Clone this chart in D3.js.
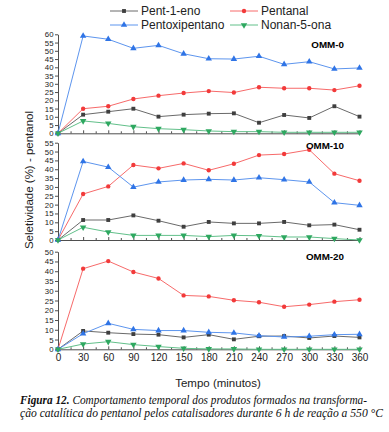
<!DOCTYPE html>
<html>
<head>
<meta charset="utf-8">
<script src="https://cdn.jsdelivr.net/npm/d3@7"></script>
<style>
  body { margin: 0; background: #fff; }
  svg { display: block; }
  .tick text { font-family: "Liberation Sans", Arial, sans-serif; fill: #222; }
  .domain, .tick line { stroke: #222; stroke-width: 0.8; }
</style>
</head>
<body>
<div id="chart"></div>
<script>
// time (minutes)
var tempo = [0, 30, 60, 90, 120, 150, 180, 210, 240, 270, 300, 330, 360];

// OMM-0
var omm0_pent1eno      = [0, 11.3, 13.1, 14.9, 10.1, 11.3, 11.9, 12.1, 6.4, 11.1, 9.3, 16.4, 10.1];
var omm0_pentanal      = [0, 14.9, 16.4, 20.8, 22.8, 24.4, 25.6, 24.7, 27.9, 27.3, 27.3, 26.2, 28.8];
var omm0_pentoxi       = [0, 59.0, 57.0, 51.5, 53.3, 48.2, 45.2, 45.0, 46.7, 41.8, 43.4, 39.0, 39.6];
var omm0_nonanona      = [0, 7.5, 6.0, 4.0, 2.8, 2.2, 1.4, 1.0, 1.0, 0.6, 0.6, 0.6, 0.6];

// OMM-10
var omm10_pent1eno     = [0, 11.3, 11.3, 13.9, 10.9, 7.5, 10.2, 9.4, 9.4, 10.2, 8.3, 8.7, 5.8];
var omm10_pentanal     = [0, 26.0, 30.3, 42.4, 40.5, 43.3, 39.4, 43.1, 48.0, 48.6, 51.0, 37.5, 33.5];
var omm10_pentoxi      = [0, 44.4, 41.2, 29.9, 32.8, 33.9, 34.3, 33.9, 35.2, 34.1, 32.8, 21.1, 19.6];
var omm10_nonanona     = [0, 7.2, 4.5, 2.6, 2.6, 2.6, 1.9, 2.6, 2.4, 1.7, 1.7, 0.8, 0];

// OMM-20
var omm20_pent1eno     = [0, 9.4, 8.5, 7.8, 7.5, 6.1, 7.5, 5.1, 6.7, 6.8, 5.8, 6.8, 6.1];
var omm20_pentanal     = [0, 41.3, 45.2, 39.6, 36.3, 27.6, 27.1, 25.1, 24.1, 21.8, 22.9, 24.4, 25.4];
var omm20_pentoxi      = [0, 8.0, 13.3, 10.2, 9.6, 9.6, 8.7, 8.4, 7.0, 6.3, 6.7, 7.5, 7.7];
var omm20_nonanona     = [0, 2.7, 3.9, 2.4, 1.4, 0.5, 0.2, 0.2, 0, 0, 0, 0, 0];

var seriesNames = ["Pent-1-eno", "Pentanal", "Pentoxipentano", "Nonan-5-ona"];
var panelNames = ["OMM-0", "OMM-10", "OMM-20"];
var panelMax = [60, 55, 50];
var panelData = [
  [omm0_pent1eno, omm0_pentanal, omm0_pentoxi, omm0_nonanona],
  [omm10_pent1eno, omm10_pentanal, omm10_pentoxi, omm10_nonanona],
  [omm20_pent1eno, omm20_pentanal, omm20_pentoxi, omm20_nonanona]
];

var colors  = ["#3f3f3f", "#f23a3a", "#2f74e6", "#2ea860"];
var lineCol = ["#6a6a6a", "#f76a6a", "#5d95ee", "#62c08a"];
var symbols = [d3.symbolSquare, d3.symbolCircle, d3.symbolTriangle, d3.symbolTriangle];
var symRot  = [0, 0, 0, 180];
var symSize = [15, 15, 18, 18];

var width = 389, height = 432;
var svg = d3.select("#chart").append("svg")
    .attr("width", width)
    .attr("height", height);

var x = d3.scaleLinear().domain([0, 360]).range([58, 359.5]);

// panel vertical positions (zero line, top value)
var panelY = [[133.3, 34.3], [240, 142.7], [349.3, 251.7]];
var labelY = [48, 148.5, 259.5];

panelData.forEach(function(series, p) {
  var y = d3.scaleLinear().domain([0, panelMax[p]]).range(panelY[p]);
  var g = svg.append("g");

  // bottom axis, ticks pointing inward
  var xAxis = d3.axisBottom(x).tickValues(tempo).tickSizeInner(-3).tickSizeOuter(0);
  if (p < 2) xAxis.tickFormat("");
  var gx = g.append("g")
      .attr("transform", "translate(0," + y(0) + ")")
      .call(xAxis);
  gx.selectAll(".tick text").attr("dy", "0.9em").style("font-size", "10px");

  g.append("g")
      .attr("transform", "translate(0," + y(0) + ")")
      .call(d3.axisBottom(x).tickValues(d3.range(15, 360, 30)).tickSizeInner(-2).tickSizeOuter(0).tickFormat(""))
      .select(".domain").remove();

  // left axis
  var gy = g.append("g")
      .attr("transform", "translate(" + x(0) + ",0)")
      .call(d3.axisLeft(y).tickValues(d3.range(0, panelMax[p] + 1, 5)).tickSizeInner(3).tickSizeOuter(0).tickPadding(1.5));
  gy.selectAll(".tick text").style("font-size", "7.8px");

  var line = d3.line()
      .x(function(d, i) { return x(tempo[i]); })
      .y(function(d) { return y(d); });

  series.forEach(function(vals, s) {
    g.append("path")
        .datum(vals)
        .attr("fill", "none")
        .attr("stroke", lineCol[s])
        .attr("stroke-width", 1)
        .attr("d", line);
  });
  series.forEach(function(vals, s) {
    g.selectAll(".pt" + s)
      .data(vals)
      .enter().append("path")
        .attr("d", d3.symbol().type(symbols[s]).size(symSize[s]))
        .attr("transform", function(d, i) {
          return "translate(" + x(tempo[i]) + "," + y(d) + ") rotate(" + symRot[s] + ")";
        })
        .attr("fill", colors[s]);
  });

  g.append("text")
      .attr("x", 344)
      .attr("y", labelY[p])
      .attr("text-anchor", "end")
      .style("font-family", "Liberation Sans, Arial, sans-serif")
      .style("font-weight", "bold")
      .style("font-size", "9.8px")
      .text(panelNames[p]);
});

// legend
var legPos = [[110, 11], [230, 11], [110, 25], [230, 25]];
seriesNames.forEach(function(name, s) {
  var lx = legPos[s][0], ly = legPos[s][1];
  svg.append("line")
      .attr("x1", lx).attr("x2", lx + 28)
      .attr("y1", ly).attr("y2", ly)
      .attr("stroke", lineCol[s]).attr("stroke-width", 1);
  svg.append("path")
      .attr("d", d3.symbol().type(symbols[s]).size(symSize[s]))
      .attr("transform", "translate(" + (lx + 14) + "," + ly + ") rotate(" + symRot[s] + ")")
      .attr("fill", colors[s]);
  svg.append("text")
      .attr("x", lx + 31)
      .attr("y", ly + 4.3)
      .style("font-family", "Liberation Sans, Arial, sans-serif")
      .style("font-size", "12px")
      .style("fill", "#222")
      .text(name);
});

// axis titles
svg.append("text")
    .attr("transform", "translate(33,180) rotate(-90)")
    .attr("text-anchor", "middle")
    .style("font-family", "Liberation Sans, Arial, sans-serif")
    .style("font-size", "11.5px")
    .style("fill", "#222")
    .text("Seletividade (%) - pentanol");

svg.append("text")
    .attr("x", 218)
    .attr("y", 387)
    .attr("text-anchor", "middle")
    .style("font-family", "Liberation Sans, Arial, sans-serif")
    .style("font-size", "11.5px")
    .style("fill", "#222")
    .text("Tempo (minutos)");

// caption
var cap1 = svg.append("text")
    .attr("x", 20).attr("y", 404)
    .attr("textLength", 347).attr("lengthAdjust", "spacingAndGlyphs")
    .style("font-family", "Liberation Serif, Times New Roman, serif")
    .style("font-style", "italic")
    .style("font-size", "11.5px")
    .style("fill", "#111");
cap1.append("tspan").style("font-weight", "bold").text("Figura 12.");
cap1.append("tspan").text(" Comportamento temporal dos produtos formados na transforma-");

svg.append("text")
    .attr("x", 20).attr("y", 417)
    .attr("textLength", 363).attr("lengthAdjust", "spacingAndGlyphs")
    .style("font-family", "Liberation Serif, Times New Roman, serif")
    .style("font-style", "italic")
    .style("font-size", "11.5px")
    .style("fill", "#111")
    .text("ção catalítica do pentanol pelos catalisadores durante 6 h de reação a 550 °C");
</script>
</body>
</html>
